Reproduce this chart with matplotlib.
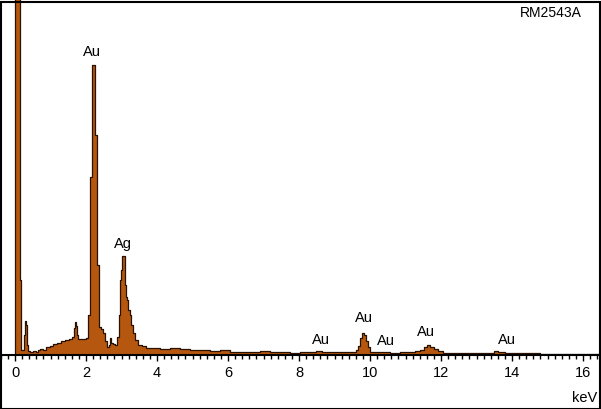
import matplotlib
matplotlib.use("Agg")
import matplotlib.pyplot as plt
from matplotlib.patches import Rectangle
import numpy as np

plt.rcParams['font.family'] = ['Liberation Sans', 'DejaVu Sans']

# Spectrum (keV, counts)
energy_kev = [-0.06, 0.01, 0.13, 0.16, 0.25, 0.28, 0.31, 0.34, 0.37, 0.42,
              0.51, 0.59, 0.65, 0.70, 0.79, 0.87, 0.99, 1.07, 1.18, 1.30,
              1.41, 1.52, 1.61, 1.66, 1.69, 1.72, 1.75, 1.78, 1.89, 2.00,
              2.06, 2.11, 2.17, 2.25, 2.30, 2.31, 2.37, 2.42, 2.48, 2.54,
              2.59, 2.65, 2.68, 2.70, 2.76, 2.82, 2.87, 2.93, 2.96, 2.99,
              3.01, 3.10, 3.13, 3.16, 3.18, 3.24, 3.27, 3.32, 3.38, 3.47,
              3.58, 3.69, 3.80, 4.09, 4.37, 4.65, 4.93, 5.21, 5.49, 5.78,
              6.06, 6.34, 6.62, 6.90, 7.18, 7.47, 7.75, 8.03, 8.31, 8.48,
              8.65, 8.87, 9.16, 9.44, 9.61, 9.66, 9.72, 9.78, 9.83, 9.89,
              9.94, 10.00, 10.28, 10.56, 10.85, 11.13, 11.27, 11.41, 11.52, 11.61,
              11.69, 11.80, 11.92, 12.06, 12.54, 12.82, 13.10, 13.38, 13.49, 13.61,
              13.80, 14.23, 14.79, 15.35, 15.92, 16.42]
counts = [0, 400, 75, 5, 20, 34, 30, 10, 4, 3,
          4, 3, 5, 6, 5, 8, 9, 11, 12, 14,
          15, 16, 18, 27, 33, 29, 20, 16, 16, 17,
          40, 178, 290, 220, 178, 90, 28, 26, 22, 14,
          8, 10, 17, 12, 11, 10, 18, 40, 75, 85,
          99, 70, 58, 55, 45, 40, 30, 22, 15, 10,
          9, 7, 7, 6, 7, 6, 5, 5, 4, 5,
          3, 3, 3, 4, 3, 3, 2, 3, 3, 4,
          3, 3, 3, 3, 5, 9, 17, 22, 20, 14,
          8, 3, 3, 2, 3, 3, 4, 5, 8, 10,
          8, 6, 4, 2, 2, 2, 2, 2, 4, 3,
          2, 2, 1, 1, 1, 1]

peak_labels = ["Au", "Ag", "Au", "Au", "Au", "Au", "Au"]
peak_label_kev = [2.17, 3.04, 8.62, 9.83, 10.44, 11.58, 13.86]
peak_label_counts = [296, 104, 8, 30, 7, 16, 8]

x_major = [0, 2, 4, 6, 8, 10, 12, 14, 16]
sample_name = "RM2543A"
unit_label = "keV"

W, H = 601, 409
fig = plt.figure(figsize=(W / 100, H / 100), dpi=100)
base_px = 355
ax = fig.add_axes([0, (H - base_px) / H, 1, base_px / H])
ax.set_xlim(-15 / 35.5, (W - 15) / 35.5)
ax.set_ylim(0, 355)

ax.fill_between(energy_kev, counts, step='post', color='#B5570F', linewidth=0)
ax.step(energy_kev, counts, where='post', color='#2a1200', linewidth=0.9)

for s in ['left', 'right', 'top']:
    ax.spines[s].set_visible(False)
ax.spines['bottom'].set_linewidth(1.5)
ax.set_yticks([])
ax.set_xticks(x_major)
ax.set_xticklabels([str(v) for v in x_major])
ax.set_xticks(np.arange(-0.4, 16.5, 0.2), minor=True)
ax.tick_params(axis='x', which='major', direction='out', length=4.5, width=1,
               labelsize=10.5, pad=3.5)
ax.tick_params(axis='x', which='minor', direction='out', length=3, width=1)
ax.patch.set_alpha(0)

for lab, e, c in zip(peak_labels, peak_label_kev, peak_label_counts):
    ax.text(e, c, lab, ha='center', va='bottom', fontsize=10.5)

fig.text(582 / W, 1 - 17 / H, sample_name, ha='right', va='baseline', fontsize=10)
fig.text(597 / W, 1 - 402 / H, unit_label, ha='right', va='baseline', fontsize=10.5)

fig.add_artist(Rectangle((0.5 / W, 0.5 / H), (W - 2) / W, (H - 2) / H,
                         transform=fig.transFigure, fill=False,
                         edgecolor='black', linewidth=1.5))

fig.savefig("out.png", dpi=100)
